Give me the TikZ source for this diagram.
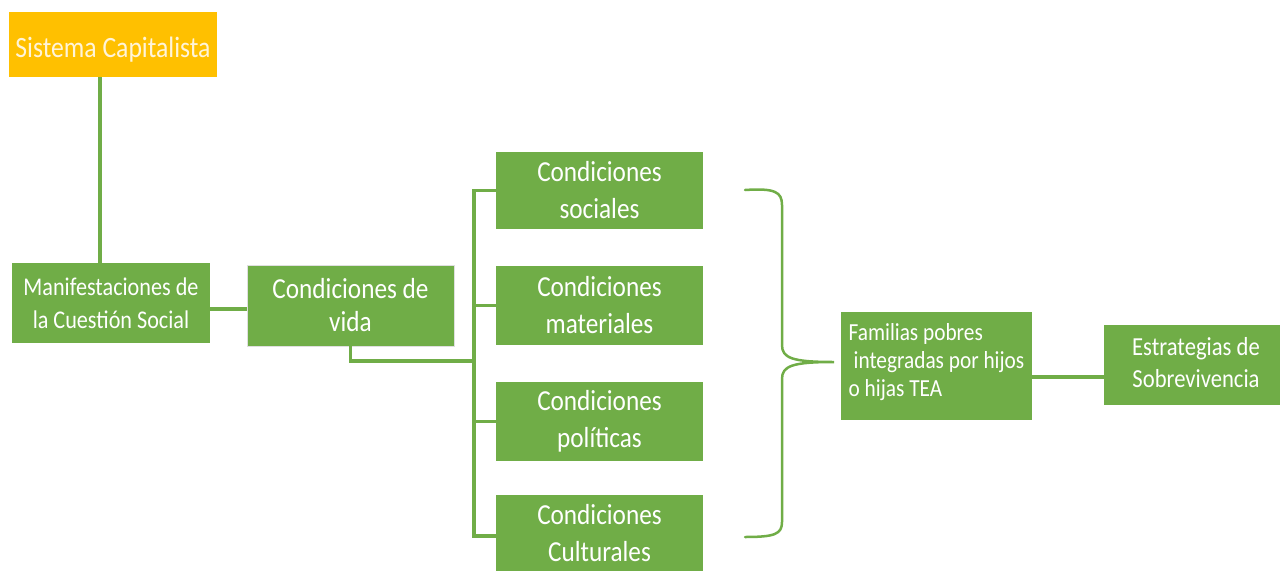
\documentclass[tikz,border=0pt]{standalone}
\usepackage{fontspec}
\setmainfont{Carlito}[FakeStretch=0.87]
\definecolor{gr}{HTML}{70AD47}
\definecolor{yl}{HTML}{FFC000}
\definecolor{pale}{HTML}{FFF4D9}
\begin{document}
\begin{tikzpicture}[x=1pt,y=-1pt,
  box/.style={fill=gr, text=white, inner sep=0pt, align=center},
  conn/.style={draw=gr, line width=3.5pt},
  brace/.style={draw=gr, line width=2.5pt, line cap=round},
  big/.style={font=\fontsize{29}{37}\selectfont}]
\useasboundingbox (0,0) rectangle (1283,571);
\node[box, fill=yl, text=pale, minimum width=208pt, minimum height=65pt, font=\fontsize{29.5}{34}\selectfont] (sis) at (113,44.5) {\raisebox{-5pt}[\height][\depth]{Sistema Capitalista}};
\node[box, minimum width=198pt, minimum height=80pt, font=\fontsize{25.5}{33}\selectfont] (man) at (111,303) {Manifestaciones de\\la Cuestión Social};
\node[box, draw=gray!25, line width=0.8pt, minimum width=207pt, minimum height=81pt, font=\fontsize{29}{33}\selectfont] (vida) at (350.5,305.5) {Condiciones de\\vida};
\node[box, big, minimum width=207pt, minimum height=77pt] (soc) at (599.5,190.5) {Condiciones\\sociales};
\node[box, big, minimum width=207pt, minimum height=79pt] (mat) at (599.5,305.5) {Condiciones\\materiales};
\node[box, big, minimum width=207pt, minimum height=79pt] (pol) at (599.5,421.5) {Condiciones\\políticas};
\node[box, big, minimum width=207pt, minimum height=76pt] (cul) at (599.5,533) {Condiciones\\Culturales};
\node[box, minimum width=191pt, minimum height=108pt, font=\fontsize{24.5}{28}\selectfont] (fam) at (936.5,366) {\raisebox{3pt}[\height][\depth]{\begin{tabular}{@{}l@{}}Familias pobres\\\hspace*{5pt}integradas por hijos\\o hijas TEA\end{tabular}}};
\node[box, minimum width=176pt, minimum height=80pt, font=\fontsize{26}{32}\selectfont] (est) at (1192,365) {\hspace*{8pt}\begin{tabular}{@{}c@{}}Estrategias de\\Sobrevivencia\end{tabular}};
\coordinate (tj) at (474,361);
\coordinate (tt) at (474,190);
\coordinate (tb) at (474,536);
\draw[conn] ([xshift=-13pt]sis.south) -- ([xshift=-11pt]man.north);
\draw[conn] ([yshift=-6pt]man.east) -- ([yshift=-6pt]man.east -| vida.west);
\draw[conn] (vida.south) |- (tj);
\draw[conn] (soc.west) -- (soc.west -| tt) -- (tb) -- (tb -| cul.west);
\draw[conn] (mat.west) -- (mat.west -| tt);
\draw[conn] (pol.west) -- (pol.west -| tt);
\draw[conn] ([yshift=-11pt]fam.east) -- ([yshift=-11pt]fam.east -| est.west);
\draw[brace] (745,190) .. controls (775,188) and (782,192) .. (782,205) -- (782,345) .. controls (782,358) and (792,362) .. (834,362)
  .. controls (792,362) and (782,366) .. (782,379) -- (782,522) .. controls (782,534) and (775,537) .. (745,537);
\end{tikzpicture}
\end{document}
